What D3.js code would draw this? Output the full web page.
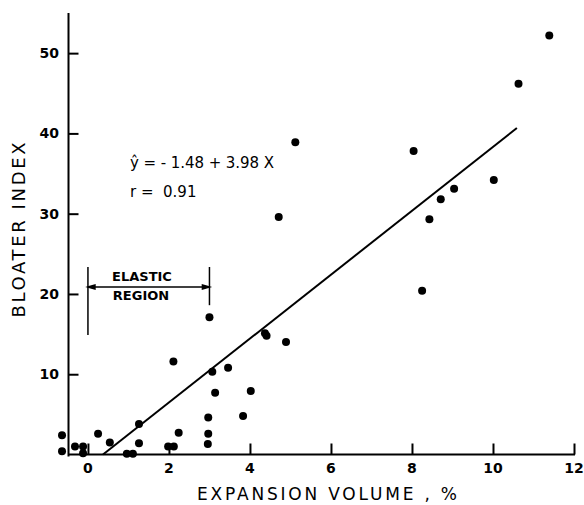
<!DOCTYPE html>
<html>
<head>
<meta charset="utf-8">
<script src="https://cdn.jsdelivr.net/npm/d3@7"></script>
<style>
  body { margin: 0; background: #fff; }
  text { font-family: "DejaVu Sans", sans-serif; fill: #000; white-space: pre; }
</style>
</head>
<body>
<div id="chart"></div>
<script>
// expansion volume (%) and bloater index
const expansion = [-0.64, -0.64, -0.32, -0.12, -0.12, 0.25, 0.54, 0.96, 1.11, 1.26, 1.26,
    1.98, 2.12, 2.24, 2.11, 2.96, 2.97, 2.97, 3.00, 3.07, 3.14, 3.46, 3.83, 4.02,
    4.37, 4.41, 4.89, 4.71, 5.12, 8.04, 8.25, 8.43, 8.71, 9.04, 10.02, 10.63, 11.39]
const bloater = [2.4, 0.4, 1.0, 1.0, 0.15, 2.6, 1.5, 0.1, 0.1, 3.8, 1.4,
    1.0, 1.0, 2.7, 11.6, 1.3, 2.6, 4.6, 17.1, 10.3, 7.7, 10.8, 4.8, 7.9,
    15.1, 14.8, 14.0, 29.6, 38.9, 37.8, 20.4, 29.3, 31.8, 33.1, 34.2, 46.2, 52.2]

const xTicks = [0, 2, 4, 6, 8, 10, 12]
const yTicks = [10, 20, 30, 40, 50]

// fitted line y = a + b x, drawn over the range of the fit
const intercept = -1.48
const slope = 3.98
const fitRange = [-intercept / slope, 10.59]

const elastic = [0, 3]

width = 584
height = 505

const svg = d3.select("#chart")
    .append("svg")
    .attr("width", width)
    .attr("height", height)

const x = d3.scaleLinear().domain([-0.48, 12]).range([68.5, 574])
const y = d3.scaleLinear().domain([0, 55]).range([454.5, 13])

// axis line + inward ticks
const yAxis = d3.axisRight(y).tickValues(yTicks).tickSize(10).tickFormat("")
svg.append("g")
    .attr("transform", `translate(${x(-0.48)},0)`)
    .call(yAxis)
    .call(g => g.select(".domain").attr("d", `M0,${y(55)}V${y(0) + 2}`))
    .call(g => g.selectAll("path, line").attr("stroke", "#000").attr("stroke-width", 2))

svg.append("g")
    .selectAll("text")
    .data(yTicks)
    .join("text")
    .attr("x", 59)
    .attr("y", d => y(d))
    .attr("dy", "0.36em")
    .attr("text-anchor", "end")
    .style("font-size", "14px")
    .style("font-weight", "bold")
    .text(d => d)

const xAxis = d3.axisTop(x).tickValues(xTicks).tickSize(11).tickFormat("")
svg.append("g")
    .attr("transform", `translate(0,${y(0)})`)
    .call(xAxis)
    .call(g => g.select(".domain").attr("d", `M${x(-0.48)},0H${x(12) + 1}`))
    .call(g => g.selectAll("path, line").attr("stroke", "#000").attr("stroke-width", 2))

svg.append("g")
    .selectAll("text")
    .data(xTicks)
    .join("text")
    .attr("x", d => x(d))
    .attr("y", 473)
    .attr("text-anchor", "middle")
    .style("font-size", "14px")
    .style("font-weight", "bold")
    .text(d => d)

// axis titles
svg.append("text")
    .attr("x", 327)
    .attr("y", 500)
    .attr("text-anchor", "middle")
    .attr("textLength", 260)
    .style("font-size", "17px")
    .text("EXPANSION VOLUME , %")

svg.append("text")
    .attr("transform", "translate(25,230) rotate(-90)")
    .attr("text-anchor", "middle")
    .attr("textLength", 175)
    .style("font-size", "18px")
    .text("BLOATER INDEX")

// regression line
svg.append("line")
    .attr("x1", x(fitRange[0]))
    .attr("y1", y(intercept + slope * fitRange[0]))
    .attr("x2", x(fitRange[1]))
    .attr("y2", y(intercept + slope * fitRange[1]))
    .attr("stroke", "#000")
    .attr("stroke-width", 2)

// points
svg.append("g")
    .selectAll("circle")
    .data(expansion)
    .join("circle")
    .attr("cx", d => x(d))
    .attr("cy", (d, i) => y(bloater[i]))
    .attr("r", 4)
    .attr("fill", "#000")

// equation
svg.append("text")
    .attr("x", 130)
    .attr("y", 168)
    .attr("textLength", 144)
    .style("font-size", "15px")
    .style("font-weight", "500")
    .text("ŷ = - 1.48 + 3.98 X")
svg.append("text")
    .attr("x", 130)
    .attr("y", 197)
    .style("font-size", "15px")
    .text("r =  0.91")

// elastic region bracket
const br = svg.append("g").attr("stroke", "#000").attr("stroke-width", 1.5)
br.append("line")
    .attr("x1", x(elastic[0])).attr("x2", x(elastic[0]))
    .attr("y1", 267).attr("y2", y(14.9))
br.append("line")
    .attr("x1", x(elastic[1])).attr("x2", x(elastic[1]))
    .attr("y1", 267).attr("y2", y(18.6))
br.append("line")
    .attr("x1", x(elastic[0])).attr("x2", x(elastic[1]))
    .attr("y1", 287).attr("y2", 287)
br.append("path")
    .attr("fill", "#000")
    .attr("d", `M${x(elastic[0])},287l7,-2v4z M${x(elastic[1])},287l-7,-2v4z`)

svg.append("text")
    .attr("x", 142)
    .attr("y", 281)
    .attr("text-anchor", "middle")
    .style("font-size", "13px")
    .style("font-weight", "bold")
    .text("ELASTIC")
svg.append("text")
    .attr("x", 141)
    .attr("y", 300)
    .attr("text-anchor", "middle")
    .style("font-size", "13px")
    .style("font-weight", "bold")
    .text("REGION")
</script>
</body>
</html>
